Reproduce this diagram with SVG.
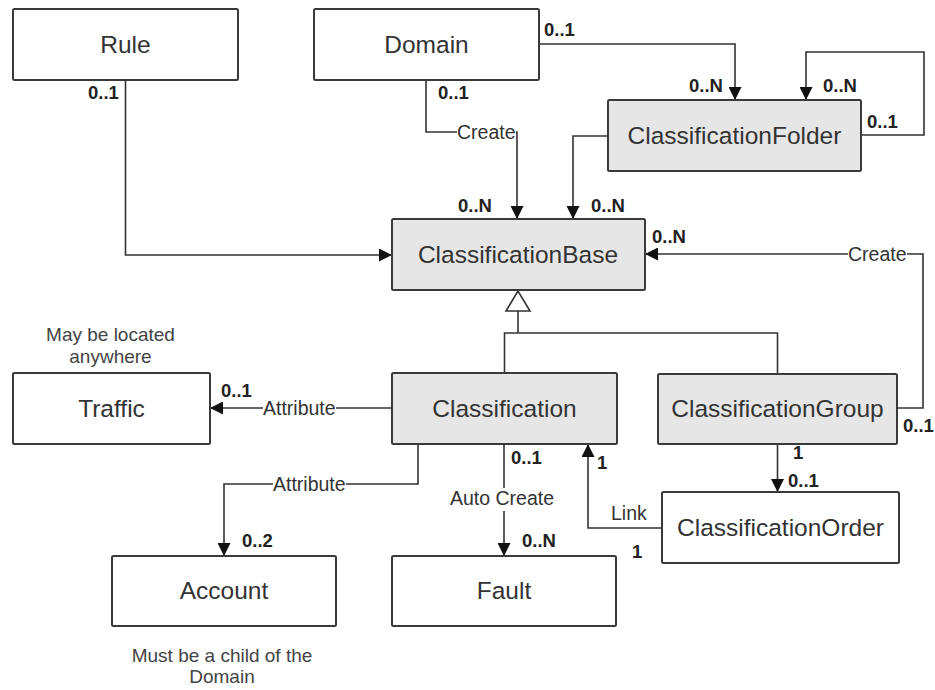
<svg xmlns="http://www.w3.org/2000/svg" width="935" height="690" viewBox="0 0 935 690">
  <style>
    .box { fill: #ffffff; stroke: #3a3a3a; stroke-width: 2; }
    .box.shaded { fill: #e6e6e6; }
    .name { font-family: "Liberation Sans", Arial, sans-serif; font-size: 24.5px; fill: #333333; text-anchor: middle; }
    .mult { font-family: "Liberation Sans", Arial, sans-serif; font-size: 18.5px; font-weight: bold; fill: #222222; }
    .lbl { font-family: "Liberation Sans", Arial, sans-serif; font-size: 19.5px; fill: #333333; }
    .note { font-family: "Liberation Sans", Arial, sans-serif; font-size: 19px; fill: #444444; text-anchor: middle; }
    .wire { fill: none; stroke: #333333; stroke-width: 1.6; }
    .arrow { marker-end: url(#head); }
    .mask { fill: #ffffff; }
  </style>
  <defs>
    <marker id="head" markerUnits="userSpaceOnUse" markerWidth="13" markerHeight="13" refX="13" refY="6.5" orient="auto">
      <path d="M0,0 L13,6.5 L0,13 Z" fill="#111111"/>
    </marker>
  </defs>

  <rect width="935" height="690" fill="#ffffff"/>

  <!-- connectors -->
  <g id="connectors">
    <path class="wire arrow" d="M125.5,80 V255 H392"/>
    <path class="wire arrow" d="M539,44 H735 V100"/>
    <path class="wire arrow" d="M861,135 H924 V52 H806 V100"/>
    <path class="wire arrow" d="M426,80 V132 H517 V219"/>
    <path class="wire arrow" d="M608,136 H573 V219"/>
    <path class="wire arrow" d="M897,408 H923 V254 H645"/>
    <!-- generalization -->
    <path class="wire" d="M518,311 V333"/>
    <path class="wire" d="M504.5,373 V333 H777.5 V374"/>
    <path d="M518,291 L506,311 L530,311 Z" fill="#ffffff" stroke="#333333" stroke-width="1.6"/>
    <path class="wire arrow" d="M392,408 H210"/>
    <path class="wire arrow" d="M418,444 V484 H224 V556"/>
    <path class="wire arrow" d="M504,444 V556"/>
    <path class="wire arrow" d="M662,528 H588 V444"/>
    <path class="wire arrow" d="M777.5,444 V492"/>

    <!-- connector labels -->
    <rect class="mask" x="457" y="124" width="59" height="17"/>
    <text class="lbl" x="457" y="139">Create</text>
    <rect class="mask" x="848" y="246" width="59" height="17"/>
    <text class="lbl" x="848" y="261">Create</text>
    <rect class="mask" x="263" y="400" width="73" height="17"/>
    <text class="lbl" x="263" y="415">Attribute</text>
    <rect class="mask" x="273" y="476" width="73" height="17"/>
    <text class="lbl" x="273" y="491">Attribute</text>
    <rect class="mask" x="450" y="488" width="106" height="23"/>
    <text class="lbl" x="450" y="505">Auto Create</text>
    <text class="lbl" x="611" y="520">Link</text>

    <!-- multiplicities -->
    <text class="mult" x="88" y="99">0..1</text>
    <text class="mult" x="544" y="36">0..1</text>
    <text class="mult" x="438" y="99">0..1</text>
    <text class="mult" x="689" y="92">0..N</text>
    <text class="mult" x="823" y="92">0..N</text>
    <text class="mult" x="867" y="128">0..1</text>
    <text class="mult" x="458" y="212">0..N</text>
    <text class="mult" x="591" y="212">0..N</text>
    <text class="mult" x="652" y="243">0..N</text>
    <text class="mult" x="903" y="432">0..1</text>
    <text class="mult" x="221" y="397">0..1</text>
    <text class="mult" x="511" y="464">0..1</text>
    <text class="mult" x="597" y="469">1</text>
    <text class="mult" x="793" y="459">1</text>
    <text class="mult" x="788" y="487">0..1</text>
    <text class="mult" x="522" y="547">0..N</text>
    <text class="mult" x="632" y="558">1</text>
    <text class="mult" x="242" y="547">0..2</text>
  </g>

  <!-- nodes -->
  <g id="rule">
    <rect class="box" x="13" y="9" width="225" height="71" rx="1.5"/>
    <text class="name" x="125.5" y="53">Rule</text>
  </g>
  <g id="domain">
    <rect class="box" x="314" y="9" width="225" height="71" rx="1.5"/>
    <text class="name" x="426.5" y="53">Domain</text>
  </g>
  <g id="classification-folder">
    <rect class="box shaded" x="608" y="100" width="253" height="71" rx="1.5"/>
    <text class="name" x="734.5" y="144">ClassificationFolder</text>
  </g>
  <g id="classification-base">
    <rect class="box shaded" x="392" y="219" width="253" height="71" rx="1.5"/>
    <text class="name" x="518" y="263">ClassificationBase</text>
  </g>
  <g id="traffic">
    <text class="note" x="110.5" y="341">May be located</text>
    <text class="note" x="110.5" y="363">anywhere</text>
    <rect class="box" x="13" y="373" width="197" height="71" rx="1.5"/>
    <text class="name" x="111.5" y="417">Traffic</text>
  </g>
  <g id="classification">
    <rect class="box shaded" x="392" y="373" width="225" height="71" rx="1.5"/>
    <text class="name" x="504.5" y="417">Classification</text>
  </g>
  <g id="classification-group">
    <rect class="box shaded" x="658" y="374" width="239" height="70" rx="1.5"/>
    <text class="name" x="777.5" y="417">ClassificationGroup</text>
  </g>
  <g id="classification-order">
    <rect class="box" x="662" y="492" width="237" height="71" rx="1.5"/>
    <text class="name" x="780.5" y="536">ClassificationOrder</text>
  </g>
  <g id="account">
    <rect class="box" x="112" y="556" width="224" height="70" rx="1.5"/>
    <text class="name" x="224" y="599">Account</text>
    <text class="note" x="222" y="662">Must be a child of the</text>
    <text class="note" x="222" y="683">Domain</text>
  </g>
  <g id="fault">
    <rect class="box" x="392" y="556" width="224" height="70" rx="1.5"/>
    <text class="name" x="504" y="599">Fault</text>
  </g>
</svg>
